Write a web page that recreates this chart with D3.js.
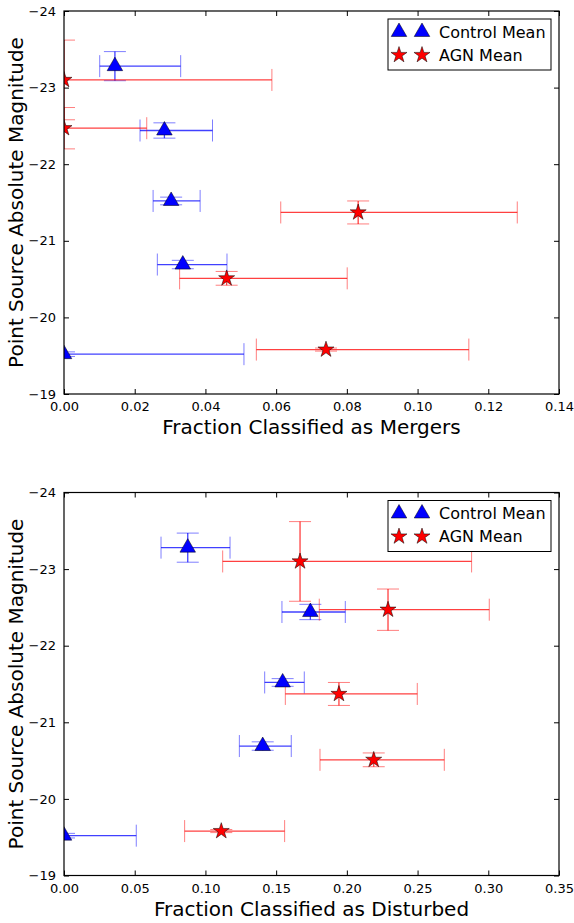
<!DOCTYPE html>
<html>
<head>
<meta charset="utf-8">
<script src="https://cdn.jsdelivr.net/npm/d3@7"></script>
<style>
  body { margin: 0; background: #fff; }
  text { font-family: "DejaVu Sans", sans-serif; fill: #000; }
</style>
</head>
<body>
<div id="chart-area"></div>
<script>
// magnitude bins (shared by both panels)
const controlMag = [-23.28, -22.44, -21.52, -20.69, -19.52]
const controlMagErr = [0.19, 0.10, 0.05, 0.055, 0.03]
const agnMag = [-23.10, -22.47, -21.37, -20.51, -19.58]
const agnMagErr = [0.52, 0.27, 0.15, 0.09, 0.02]

// merger fractions, with lower/upper bounds
const controlMerger = [0.0144, 0.0284, 0.0303, 0.0336, 0.0]
const controlMergerLo = [0.0101, 0.0215, 0.0252, 0.0264, -0.05]
const controlMergerHi = [0.0330, 0.0420, 0.0385, 0.0461, 0.0509]
const agnMerger = [0.0, 0.0, 0.0832, 0.0460, 0.0741]
const agnMergerLo = [-0.06, -0.023, 0.0613, 0.0327, 0.0544]
const agnMergerHi = [0.0588, 0.0234, 0.1282, 0.0801, 0.1145]

// disturbed fractions
const controlDisturbed = [0.0875, 0.1742, 0.1546, 0.1405, 0.0]
const controlDisturbedLo = [0.0686, 0.1541, 0.1419, 0.1240, -0.05]
const controlDisturbedHi = [0.1174, 0.1989, 0.1699, 0.1607, 0.0511]
const agnDisturbed = [0.1669, 0.2291, 0.1944, 0.2190, 0.1112]
const agnDisturbedLo = [0.1122, 0.1805, 0.1565, 0.1810, 0.0853]
const agnDisturbedHi = [0.2882, 0.3007, 0.2498, 0.2689, 0.1560]

const mergerTicks = [0, 0.02, 0.04, 0.06, 0.08, 0.10, 0.12, 0.14]
const disturbedTicks = [0, 0.05, 0.10, 0.15, 0.20, 0.25, 0.30, 0.35]
const magTicks = [-24, -23, -22, -21, -20, -19]

const legendLabels = ["Control Mean", "AGN Mean"]

const MARGIN = { LEFT: 64, RIGHT: 15 }
const WIDTH = 574 - MARGIN.LEFT - MARGIN.RIGHT
const PANEL_H = 383
const CAP = 11

const svg = d3.select("#chart-area").append("svg")
	.attr("width", 574)
	.attr("height", 923)

const minus = s => s.replace("-", "\u2212")

function makeSeries(xs, lo, hi, ys, yerr) {
	return xs.map((x, i) => ({ x, lo: lo[i], hi: hi[i], y: ys[i], yerr: yerr[i] }))
}

function drawPanel(top, id, xMax, xTicks, xLabelText, control, agn) {
	const g = svg.append("g")
		.attr("transform", `translate(${MARGIN.LEFT}, ${top})`)

	const x = d3.scaleLinear().domain([0, xMax]).range([0, WIDTH])
	const y = d3.scaleLinear().domain([-24, -19]).range([0, PANEL_H])

	g.append("clipPath").attr("id", id)
		.append("rect").attr("width", WIDTH).attr("height", PANEL_H)

	const plot = g.append("g").attr("clip-path", `url(#${id})`)

	function errorBars(data, color) {
		const eb = plot.append("g").attr("stroke", color).attr("fill", "none")
		data.forEach(d => {
			// horizontal bar
			eb.append("line")
				.attr("x1", x(d.lo)).attr("x2", x(d.hi))
				.attr("y1", y(d.y)).attr("y2", y(d.y))
				.attr("stroke-width", 1.3).attr("stroke-opacity", 0.75)
			// vertical bar
			eb.append("line")
				.attr("x1", x(d.x)).attr("x2", x(d.x))
				.attr("y1", y(d.y - d.yerr)).attr("y2", y(d.y + d.yerr))
				.attr("stroke-width", 1.3).attr("stroke-opacity", 0.75)
			// caps
			;[d.lo, d.hi].forEach(v => {
				eb.append("line")
					.attr("x1", x(v)).attr("x2", x(v))
					.attr("y1", y(d.y) - CAP).attr("y2", y(d.y) + CAP)
					.attr("stroke-width", 1).attr("stroke-opacity", 0.5)
			})
			;[d.y - d.yerr, d.y + d.yerr].forEach(v => {
				eb.append("line")
					.attr("x1", x(d.x) - CAP).attr("x2", x(d.x) + CAP)
					.attr("y1", y(v)).attr("y2", y(v))
					.attr("stroke-width", 1).attr("stroke-opacity", 0.5)
			})
		})
	}

	errorBars(control, "#0000ff")
	errorBars(agn, "#ff0000")

	const tri = d3.symbol().type(d3.symbolTriangle).size(105)
	const star = d3.symbol().type(d3.symbolStar).size(80)

	plot.selectAll(".tri").data(control).enter().append("path")
		.attr("class", "tri")
		.attr("d", tri)
		.attr("transform", d => `translate(${x(d.x)}, ${y(d.y)})`)
		.attr("fill", "#0000ff")
		.attr("stroke", "#000").attr("stroke-width", 0.5)

	plot.selectAll(".star").data(agn).enter().append("path")
		.attr("class", "star")
		.attr("d", star)
		.attr("transform", d => `translate(${x(d.x)}, ${y(d.y)})`)
		.attr("fill", "#ff0000")
		.attr("stroke", "#000").attr("stroke-width", 0.5)

	// axes, ticks pointing inward on all sides
	const xFmt = d3.format(".2f")
	const bottomAxis = d3.axisBottom(x).tickValues(xTicks).tickFormat(xFmt).tickSizeInner(-5).tickSizeOuter(0).tickPadding(8)
	const topAxis = d3.axisTop(x).tickValues(xTicks).tickFormat("").tickSizeInner(-5).tickSizeOuter(0)
	const leftAxis = d3.axisLeft(y).tickValues(magTicks).tickFormat(d => minus(String(d))).tickSizeInner(-5).tickSizeOuter(0).tickPadding(8)
	const rightAxis = d3.axisRight(y).tickValues(magTicks).tickFormat("").tickSizeInner(-5).tickSizeOuter(0)

	const ax = [
		g.append("g").attr("transform", `translate(0, ${PANEL_H})`).call(bottomAxis),
		g.append("g").call(topAxis),
		g.append("g").call(leftAxis),
		g.append("g").attr("transform", `translate(${WIDTH}, 0)`).call(rightAxis)
	]
	ax.forEach(a => {
		a.select(".domain").remove()
		a.selectAll("line").attr("stroke", "#000").attr("stroke-width", 1)
		a.selectAll("text").attr("font-size", "13px").attr("font-family", "DejaVu Sans")
	})

	g.append("rect")
		.attr("width", WIDTH).attr("height", PANEL_H)
		.attr("fill", "none").attr("stroke", "#000").attr("stroke-width", 1.2)

	// X label
	g.append("text")
		.attr("x", WIDTH / 2)
		.attr("y", PANEL_H + 40)
		.attr("font-size", "20px")
		.attr("text-anchor", "middle")
		.text(xLabelText)

	// Y label
	g.append("text")
		.attr("x", -(PANEL_H / 2))
		.attr("y", -41)
		.attr("font-size", "20px")
		.attr("text-anchor", "middle")
		.attr("transform", "rotate(-90)")
		.text("Point Source Absolute Magnitude")

	// legend
	const lg = g.append("g").attr("transform", `translate(${WIDTH - 171}, 8)`)
	lg.append("rect")
		.attr("width", 163).attr("height", 51)
		.attr("fill", "#fff").attr("stroke", "#000").attr("stroke-width", 1)
	const markers = [
		{ sym: tri, fill: "#0000ff" },
		{ sym: star, fill: "#ff0000" }
	]
	legendLabels.forEach((label, i) => {
		const ry = 13 + i * 23
		;[11, 34].forEach(mx => {
			lg.append("path")
				.attr("d", markers[i].sym)
				.attr("transform", `translate(${mx}, ${ry})`)
				.attr("fill", markers[i].fill)
				.attr("stroke", "#000").attr("stroke-width", 0.5)
		})
		lg.append("text")
			.attr("x", 51)
			.attr("y", ry)
			.attr("dy", "0.35em")
			.attr("font-size", "16px")
			.text(label)
	})
}

drawPanel(11, "clip-top", 0.14, mergerTicks, "Fraction Classified as Mergers",
	makeSeries(controlMerger, controlMergerLo, controlMergerHi, controlMag, controlMagErr),
	makeSeries(agnMerger, agnMergerLo, agnMergerHi, agnMag, agnMagErr))

drawPanel(492.5, "clip-bottom", 0.35, disturbedTicks, "Fraction Classified as Disturbed",
	makeSeries(controlDisturbed, controlDisturbedLo, controlDisturbedHi, controlMag, controlMagErr),
	makeSeries(agnDisturbed, agnDisturbedLo, agnDisturbedHi, agnMag, agnMagErr))
</script>
</body>
</html>
